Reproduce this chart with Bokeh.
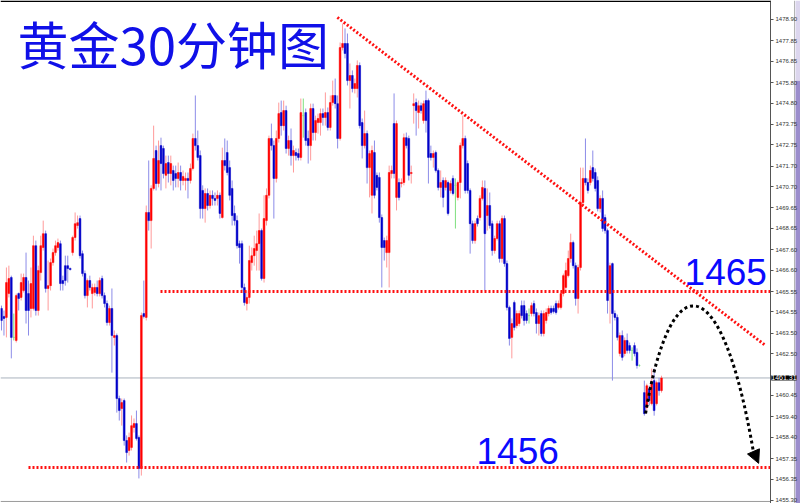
import math
from bokeh.plotting import figure
from bokeh.models import (ColumnDataSource, Label, FixedTicker, Arrow,
                          NormalHead, NumeralTickFormatter, BoxAnnotation)
from bokeh.embed import file_html
from bokeh.resources import INLINE

NaN = float("nan")

opens = [
    1464.72, 1464.33, 1464.28, 1465.45, 1466.24, 1463.30, 1463.15, 1465.45, 1465.26, 1465.60,
    1466.24, 1465.45, 1464.72, 1464.72, 1467.80, 1464.62, 1466.48, 1467.71, 1468.39, 1465.70,
    1465.84, 1466.97, 1467.46, 1467.71, 1467.90, 1466.09, 1466.82, 1466.82, 1466.68, 1467.46,
    1468.20, 1468.79, 1469.13, 1467.41, 1466.43, 1465.35, 1466.09, 1465.45, 1465.50, 1465.75,
    1465.45, 1466.19, 1465.35, 1464.96, 1464.03, 1464.72, 1463.30, 1463.39, 1460.30, 1459.81,
    1460.20, 1458.24, 1457.75, 1457.90, 1458.88, 1459.07, 1458.39, 1456.87, 1464.47, 1464.28,
    1469.43, 1469.03, 1470.61, 1472.47, 1470.85, 1472.71, 1472.57, 1471.25, 1471.88, 1471.34,
    1471.49, 1471.34, 1471.10, 1471.39, 1471.00, 1471.00, 1471.10, 1471.00, 1471.59, 1473.06,
    1472.71, 1472.22, 1470.51, 1469.62, 1470.36, 1469.77, 1470.27, 1470.12, 1470.12, 1470.27,
    1469.18, 1471.98, 1472.37, 1471.63, 1470.61, 1469.38, 1469.03, 1467.90, 1467.90, 1465.75,
    1464.96, 1465.26, 1466.97, 1467.31, 1467.56, 1467.90, 1468.54, 1466.19, 1469.03, 1470.27,
    1473.06, 1472.71, 1471.10, 1473.06, 1474.33, 1473.69, 1474.43, 1472.57, 1472.96, 1472.22,
    1472.37, 1472.32, 1472.13, 1474.18, 1474.33, 1473.06, 1472.71, 1474.53, 1473.35, 1473.84,
    1473.84, 1474.28, 1474.09, 1474.33, 1473.60, 1474.82, 1475.17, 1474.77, 1473.06, 1477.52,
    1477.72, 1477.72, 1475.90, 1476.15, 1475.51, 1475.51, 1476.64, 1473.84, 1472.71, 1473.30,
    1471.63, 1470.27, 1472.37, 1471.25, 1471.15, 1469.18, 1468.05, 1467.46, 1467.46, 1471.34,
    1473.79, 1470.17, 1470.90, 1470.85, 1470.90, 1473.10, 1473.06, 1471.34, 1474.67, 1474.82,
    1474.33, 1474.67, 1473.94, 1474.92, 1474.92, 1472.32, 1472.13, 1472.37, 1471.49, 1470.66,
    1471.00, 1470.66, 1470.90, 1470.51, 1471.10, 1470.76, 1470.17, 1470.90, 1472.71, 1473.06,
    1471.83, 1470.51, 1468.88, 1468.05, 1469.13, 1469.18, 1470.12, 1470.61, 1469.28, 1469.77,
    1468.88, 1467.56, 1468.15, 1468.88, 1467.17, 1469.13, 1466.92, 1464.77, 1463.30, 1465.01,
    1463.88, 1463.98, 1464.86, 1464.86, 1464.47, 1464.37, 1464.47, 1464.96, 1464.52, 1463.98,
    1464.47, 1463.49, 1464.13, 1464.47, 1464.72, 1464.72, 1464.96, 1464.77, 1464.77, 1465.45,
    1465.75, 1466.33, 1467.17, 1467.95, 1466.82, 1465.21, 1466.73, 1469.92, 1471.10, 1470.90,
    1470.90, 1471.63, 1471.39, 1471.00, 1469.62, 1470.12, 1469.18, 1468.54, 1465.45, 1466.92,
    1464.47, 1464.28, 1462.51, 1463.39, 1462.51, 1463.15, 1462.90, 1462.66, 1462.90, 1462.56,
    1461.92, NaN, 1460.59, 1459.86, 1460.78, 1460.05, 1461.18, 1460.05, 1461.08, 1460.69,
]
highs = [
    1464.86, 1464.62, 1466.73, 1466.82, 1466.33, 1464.47, 1465.45, 1465.50, 1466.43, 1466.43,
    1467.46, 1466.09, 1466.73, 1468.29, 1468.05, 1466.82, 1468.29, 1469.03, 1468.54, 1467.07,
    1467.17, 1467.66, 1468.05, 1468.15, 1468.05, 1466.33, 1467.31, 1467.31, 1466.73, 1468.29,
    1469.43, 1469.28, 1469.28, 1467.56, 1466.58, 1466.19, 1466.33, 1465.94, 1465.94, 1466.09,
    1466.24, 1466.33, 1465.50, 1465.11, 1464.86, 1465.70, 1463.64, 1463.49, 1460.44, 1460.30,
    1460.30, 1458.49, 1458.63, 1459.47, 1459.32, 1459.71, 1458.49, 1464.52, 1466.09, 1469.77,
    1471.98, 1470.76, 1473.69, 1472.71, 1472.96, 1473.10, 1472.71, 1472.22, 1472.22, 1472.22,
    1471.73, 1471.73, 1471.88, 1471.73, 1471.49, 1471.39, 1471.39, 1471.83, 1473.30, 1475.17,
    1473.45, 1472.47, 1470.76, 1470.61, 1470.61, 1470.51, 1470.51, 1470.41, 1470.51, 1470.41,
    1472.61, 1473.06, 1472.96, 1471.98, 1471.00, 1469.77, 1469.28, 1468.05, 1468.05, 1465.94,
    1465.60, 1467.80, 1467.71, 1468.29, 1468.54, 1469.38, 1468.64, 1470.27, 1470.61, 1473.20,
    1473.79, 1472.96, 1473.45, 1474.82, 1474.92, 1474.92, 1474.67, 1473.20, 1473.55, 1472.71,
    1472.57, 1472.57, 1475.02, 1475.02, 1474.53, 1473.45, 1474.77, 1474.77, 1474.18, 1474.28,
    1474.53, 1474.53, 1475.32, 1474.58, 1475.17, 1475.90, 1476.00, 1475.17, 1477.77, 1478.70,
    1478.46, 1478.21, 1476.74, 1476.40, 1476.00, 1476.89, 1476.79, 1474.04, 1474.43, 1473.45,
    1472.47, 1472.71, 1472.96, 1471.39, 1471.39, 1469.33, 1468.20, 1468.29, 1471.73, 1471.73,
    1475.27, 1473.94, 1471.10, 1471.10, 1473.30, 1473.35, 1473.20, 1471.73, 1475.27, 1475.02,
    1474.92, 1474.82, 1474.92, 1475.41, 1475.02, 1472.71, 1472.47, 1472.47, 1471.59, 1471.49,
    1471.15, 1471.15, 1471.00, 1471.00, 1471.25, 1471.10, 1471.00, 1472.86, 1474.18, 1473.20,
    1471.98, 1470.61, 1469.03, 1469.03, 1469.28, 1470.27, 1471.00, 1471.00, 1470.61, 1470.41,
    1469.03, 1468.29, 1469.03, 1469.03, 1469.28, 1469.28, 1467.07, 1464.86, 1464.23, 1465.11,
    1464.62, 1464.62, 1465.11, 1465.11, 1464.62, 1464.72, 1465.01, 1465.11, 1464.72, 1464.52,
    1464.62, 1464.62, 1464.72, 1464.86, 1464.86, 1464.86, 1465.11, 1465.11, 1465.60, 1466.43,
    1466.97, 1467.56, 1468.39, 1468.05, 1466.97, 1466.87, 1471.63, 1471.63, 1473.06, 1471.10,
    1471.73, 1472.47, 1471.59, 1471.20, 1470.27, 1470.51, 1469.33, 1468.64, 1466.97, 1466.97,
    1464.62, 1464.42, 1463.54, 1463.64, 1463.30, 1463.49, 1463.05, 1462.81, 1463.05, 1462.76,
    1461.97, NaN, 1461.18, 1461.03, 1460.93, 1461.77, 1461.77, 1461.18, 1461.32, 1461.42,
]
lows = [
    1463.64, 1463.39, 1463.30, 1465.26, 1462.27, 1463.15, 1463.05, 1464.62, 1465.11, 1465.50,
    1463.98, 1463.39, 1464.28, 1464.62, 1464.37, 1464.37, 1466.09, 1467.56, 1465.50, 1464.62,
    1465.60, 1466.82, 1467.31, 1467.56, 1465.60, 1465.60, 1465.84, 1465.99, 1466.58, 1467.31,
    1468.05, 1468.64, 1467.17, 1466.29, 1465.21, 1464.77, 1465.60, 1464.72, 1465.35, 1465.31,
    1465.31, 1465.21, 1464.77, 1463.88, 1463.88, 1461.57, 1462.90, 1459.61, 1459.22, 1458.97,
    1457.99, 1457.16, 1457.50, 1457.75, 1458.63, 1458.24, 1456.38, 1456.52, 1464.23, 1464.13,
    1468.54, 1467.66, 1470.51, 1470.51, 1470.66, 1470.51, 1471.10, 1470.61, 1470.90, 1470.76,
    1470.51, 1470.66, 1470.66, 1470.51, 1470.76, 1470.51, 1470.12, 1470.85, 1471.49, 1472.47,
    1471.98, 1469.13, 1469.13, 1468.93, 1469.53, 1469.62, 1469.77, 1469.77, 1469.77, 1469.13,
    1469.13, 1471.49, 1471.25, 1470.02, 1468.79, 1468.79, 1467.66, 1466.92, 1465.60, 1464.86,
    1464.62, 1464.96, 1466.58, 1466.82, 1466.58, 1466.58, 1466.09, 1465.99, 1468.79, 1470.12,
    1472.47, 1469.13, 1470.90, 1472.86, 1473.20, 1473.45, 1472.32, 1472.22, 1471.73, 1471.39,
    1471.98, 1471.98, 1471.98, 1473.10, 1472.71, 1471.83, 1471.98, 1472.96, 1472.96, 1473.30,
    1473.20, 1473.69, 1473.69, 1473.45, 1473.45, 1474.67, 1474.53, 1472.57, 1472.96, 1477.38,
    1476.99, 1475.66, 1474.53, 1475.32, 1475.27, 1475.07, 1473.55, 1472.08, 1472.57, 1470.85,
    1470.17, 1469.38, 1470.12, 1470.51, 1468.93, 1465.75, 1467.07, 1466.73, 1465.75, 1471.10,
    1471.10, 1469.53, 1470.02, 1470.66, 1470.76, 1472.57, 1471.00, 1470.85, 1473.79, 1473.20,
    1473.55, 1474.28, 1473.79, 1473.35, 1470.85, 1471.98, 1471.63, 1471.39, 1470.51, 1470.17,
    1469.68, 1470.51, 1469.28, 1470.36, 1470.27, 1468.64, 1470.02, 1470.12, 1472.57, 1470.36,
    1470.36, 1467.41, 1467.90, 1467.90, 1468.74, 1469.03, 1470.02, 1465.60, 1468.54, 1468.64,
    1467.31, 1467.41, 1468.05, 1466.97, 1466.97, 1466.77, 1464.62, 1462.90, 1462.27, 1463.64,
    1463.74, 1463.84, 1464.23, 1463.88, 1463.98, 1463.98, 1464.33, 1464.33, 1463.49, 1463.39,
    1463.35, 1463.35, 1463.98, 1464.33, 1464.42, 1464.47, 1464.42, 1464.67, 1464.67, 1465.31,
    1465.60, 1466.24, 1466.97, 1466.68, 1464.86, 1464.47, 1466.58, 1469.77, 1470.76, 1470.36,
    1470.76, 1470.95, 1470.46, 1469.48, 1469.43, 1468.49, 1468.39, 1464.47, 1463.98, 1461.18,
    1464.13, 1463.15, 1462.37, 1462.16, 1462.37, 1462.51, 1462.51, 1462.16, 1462.37, 1461.77,
    1461.87, NaN, 1459.46, 1459.71, 1459.96, 1459.96, 1459.46, 1459.96, 1460.44, 1460.59,
]
closes = [
    1464.13, 1464.23, 1465.99, 1466.19, 1463.30, 1463.30, 1465.35, 1465.21, 1465.99, 1466.24,
    1464.62, 1464.62, 1465.94, 1467.80, 1464.62, 1466.58, 1467.80, 1468.39, 1465.70, 1465.84,
    1466.97, 1467.46, 1467.80, 1467.95, 1465.94, 1465.94, 1466.09, 1466.68, 1466.63, 1468.20,
    1468.88, 1468.93, 1467.31, 1466.43, 1465.35, 1466.09, 1465.75, 1465.75, 1465.75, 1465.45,
    1466.09, 1465.35, 1464.96, 1464.03, 1464.72, 1463.39, 1463.39, 1460.30, 1459.71, 1460.10,
    1458.24, 1457.65, 1458.39, 1458.97, 1459.07, 1458.34, 1456.87, 1464.37, 1464.33, 1469.43,
    1469.03, 1470.61, 1472.08, 1470.85, 1471.98, 1471.83, 1471.34, 1471.83, 1471.34, 1471.83,
    1471.00, 1471.10, 1471.39, 1471.00, 1471.20, 1471.10, 1471.00, 1471.59, 1473.06, 1472.71,
    1472.13, 1469.62, 1469.62, 1470.36, 1469.77, 1470.27, 1470.12, 1470.02, 1470.27, 1469.38,
    1471.98, 1471.73, 1471.39, 1470.27, 1469.28, 1469.03, 1467.80, 1467.71, 1465.75, 1465.01,
    1465.26, 1467.07, 1467.31, 1467.66, 1467.90, 1468.54, 1466.19, 1469.13, 1470.27, 1473.06,
    1472.71, 1471.10, 1473.06, 1474.28, 1473.69, 1474.43, 1472.57, 1472.96, 1472.22, 1472.47,
    1472.22, 1472.13, 1474.33, 1474.18, 1472.96, 1472.71, 1474.53, 1473.35, 1473.94, 1474.04,
    1474.28, 1474.09, 1474.33, 1473.60, 1474.82, 1475.17, 1474.77, 1473.06, 1477.52, 1477.72,
    1477.23, 1475.90, 1476.15, 1475.51, 1475.76, 1476.64, 1473.69, 1472.71, 1473.30, 1471.63,
    1472.32, 1472.47, 1470.27, 1470.66, 1469.18, 1467.71, 1467.71, 1468.05, 1471.39, 1471.49,
    1471.34, 1473.79, 1470.17, 1470.90, 1473.10, 1472.71, 1471.25, 1471.39, 1474.77, 1474.43,
    1474.67, 1474.43, 1474.77, 1473.94, 1472.13, 1472.13, 1472.32, 1471.49, 1470.66, 1470.90,
    1470.17, 1471.00, 1469.38, 1470.85, 1470.36, 1470.76, 1470.90, 1472.71, 1473.06, 1470.51,
    1470.51, 1468.88, 1468.05, 1468.88, 1468.88, 1470.12, 1470.66, 1468.39, 1469.77, 1468.79,
    1467.56, 1468.15, 1468.88, 1467.17, 1469.13, 1466.92, 1464.77, 1463.25, 1463.98, 1463.79,
    1464.47, 1464.47, 1464.37, 1464.13, 1464.13, 1464.37, 1464.86, 1464.47, 1463.98, 1464.37,
    1463.49, 1464.47, 1464.52, 1464.72, 1464.52, 1464.57, 1464.52, 1464.96, 1465.45, 1466.33,
    1466.58, 1467.17, 1467.95, 1466.82, 1465.21, 1466.73, 1469.92, 1471.10, 1470.90, 1470.51,
    1471.49, 1471.10, 1470.61, 1469.62, 1470.12, 1468.64, 1468.54, 1465.11, 1466.82, 1464.47,
    1464.28, 1463.30, 1463.39, 1462.32, 1463.15, 1462.66, 1462.66, 1462.66, 1462.51, 1461.92,
    1461.92, NaN, 1459.56, 1460.93, 1460.20, 1461.03, 1459.71, 1461.08, 1460.69, 1461.31,
]

# right-axis tick labels
tick_values = [1478.90, 1477.85, 1476.85, 1475.80, 1474.80, 1473.75, 1472.75, 1471.70,
               1470.70, 1469.65, 1468.65, 1467.60, 1466.60, 1465.55, 1464.55, 1463.50,
               1462.50, 1460.45, 1459.40, 1458.40, 1457.35, 1456.35, 1455.30]
last_price = 1461.31

# annotations (bar index, price)
level_prices = [1465.55, 1456.92]
level_starts = [64.8, 11.0]
trend_x = [136.9, 311.4]
trend_y = [1479.00, 1462.90]
path_x = [262.5, 272.7, 293.6, 306.5]      # start, control 1, control 2, end
path_y = [1459.56, 1466.97, 1466.82, 1457.65]
arrow_x = [306.5, 308.6]
arrow_y = [1457.70, 1457.12]
title_text = "黄金30分钟图"
title_pos = (6.5, 1477.74)
lbl_1465 = ("1465", 278.4, 1466.51)
lbl_1456 = ("1456", 193.6, 1457.75)

AXIS_X = 313.43                # data x where the price scale sits
X_RANGE = (-0.41, 325.65)
Y_RANGE = (1455.15, 1479.83)
bottom_rule = 1455.25
scroll_rule = 323.2
scroll_left = 323.6
scroll_split = 1475.90

n = len(opens)
xs = list(range(n))
up_body, up_wick = "#ff0000", "#ff9a9a"
dn_body, dn_wick = "#0000c8", "#8c8ce8"
doji_col = "#7ee07e"

body_col, wick_col, tops, bots = [], [], [], []
for o, c in zip(opens, closes):
    if math.isnan(o):
        body_col.append(doji_col); wick_col.append(doji_col)
        tops.append(NaN); bots.append(NaN)
        continue
    if c > o:
        body_col.append(up_body); wick_col.append(up_wick)
    elif c < o:
        body_col.append(dn_body); wick_col.append(dn_wick)
    else:
        body_col.append(doji_col); wick_col.append(doji_col)
    tops.append(max(o, c)); bots.append(min(o, c))

src = ColumnDataSource(dict(x=xs, o=opens, h=highs, l=lows, c=closes,
                            top=tops, bot=bots, bc=body_col, wc=wick_col))

p = figure(width=800, height=503, x_range=X_RANGE, y_range=Y_RANGE,
           output_backend="svg", toolbar_location=None,
           y_axis_location="right", x_axis_location=None,
           min_border_left=0, min_border_right=0, min_border_top=0, min_border_bottom=0,
           outline_line_color=None, background_fill_color="white",
           border_fill_color="white")
p.xgrid.visible = False
p.ygrid.visible = False

# frame decorations: top black rule, bottom grey rule, scrollbar strip
p.add_layout(BoxAnnotation(bottom=Y_RANGE[1] - 0.07, right=AXIS_X, fill_color="black",
                           fill_alpha=1, line_alpha=0))
p.segment(x0=[X_RANGE[0]], y0=[bottom_rule], x1=[AXIS_X], y1=[bottom_rule],
          line_color="#9a9a9a", line_width=1)
p.add_layout(BoxAnnotation(left=scroll_left, top=scroll_split, fill_color="#9b8dcc",
                           fill_alpha=1, line_alpha=0, level="underlay"))
p.add_layout(BoxAnnotation(left=scroll_left, bottom=scroll_split, fill_color="#dcd6ee",
                           fill_alpha=1, line_alpha=0, level="underlay"))
p.segment(x0=[scroll_rule], y0=[Y_RANGE[0]], x1=[scroll_rule], y1=[Y_RANGE[1]],
          line_color="#b4b4b4", line_width=1)

# current price line
p.segment(x0=[X_RANGE[0]], y0=[last_price], x1=[AXIS_X], y1=[last_price],
          line_color="#a9b3bd", line_width=1)

# candles
p.segment(x0="x", y0="l", x1="x", y1="h", source=src, line_color="wc", line_width=1)
p.vbar(x="x", top="top", bottom="bot", width=0.72, source=src,
       fill_color="bc", line_color="bc", line_width=0.5)

# red dotted support / resistance lines
p.segment(x0=level_starts, y0=level_prices, x1=[AXIS_X] * len(level_prices), y1=level_prices,
          line_color="#ff1010", line_width=3, line_dash="2 2")
p.line(trend_x, trend_y, line_color="#ff1010", line_width=3, line_dash="2 2")

# black dotted projected path with arrow
p.bezier(x0=[path_x[0]], y0=[path_y[0]], cx0=[path_x[1]], cy0=[path_y[1]],
         cx1=[path_x[2]], cy1=[path_y[2]], x1=[path_x[3]], y1=[path_y[3]],
         line_color="black", line_width=3, line_dash="3 3")
p.add_layout(Arrow(end=NormalHead(size=13, fill_color="black", line_color="black"),
                   x_start=arrow_x[0], y_start=arrow_y[0], x_end=arrow_x[1], y_end=arrow_y[1],
                   line_alpha=0))

# texts
p.add_layout(Label(x=title_pos[0], y=title_pos[1], text=title_text,
                   text_font="Noto Sans CJK SC", text_font_size="51px",
                   text_color="#1010e8", text_baseline="alphabetic"))
for t, lx, ly in (lbl_1465, lbl_1456):
    p.add_layout(Label(x=lx, y=ly, text=t, text_font="Liberation Sans",
                       text_font_size="37px", text_color="#0a0aff",
                       text_baseline="alphabetic"))

# price scale, drawn at a fixed data x inside the frame
ax = p.yaxis[0]
ax.fixed_location = AXIS_X
ax.ticker = FixedTicker(ticks=tick_values)
ax.formatter = NumeralTickFormatter(format="0.00")
ax.major_label_text_font = "Liberation Sans"
ax.major_label_text_font_size = "6px"
ax.major_label_text_color = "#333333"
ax.major_tick_out = 3
ax.major_tick_in = 0
ax.minor_tick_out = 0
ax.minor_tick_in = 0
ax.major_label_standoff = 2
ax.axis_line_color = "#555555"
ax.major_tick_line_color = "#555555"

# last price tag on the scale
p.add_layout(Label(x=AXIS_X + 0.3, y=last_price, text="1461.31",
                   text_font="Liberation Sans", text_font_size="7px", text_color="white",
                   background_fill_color="black", background_fill_alpha=1,
                   text_baseline="middle"))

open("out.html", "w").write(file_html(p, INLINE))
